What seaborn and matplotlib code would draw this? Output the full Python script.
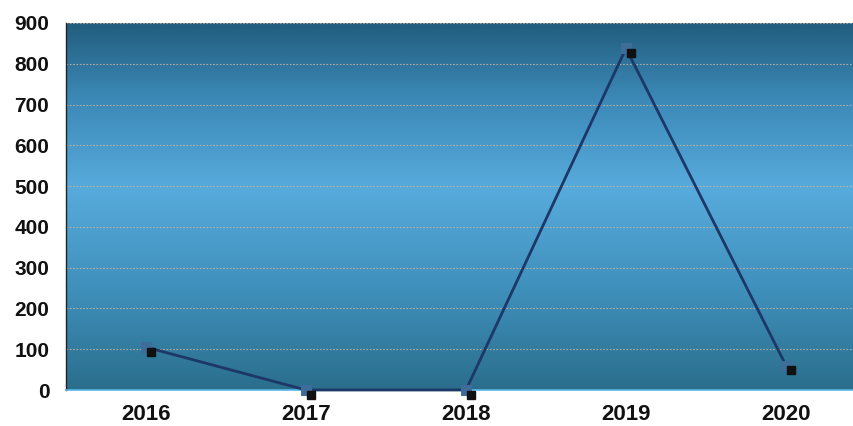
import numpy as np
import pandas as pd
import matplotlib
matplotlib.use("Agg")
import matplotlib.pyplot as plt
from matplotlib.colors import LinearSegmentedColormap
from matplotlib.transforms import ScaledTranslation
import seaborn as sns

years = ["2016", "2017", "2018", "2019", "2020"]
values = [105, 0, 0, 838, 60]
y_ticks = [0, 100, 200, 300, 400, 500, 600, 700, 800, 900]

sns.set_style("white")
plt.rcParams["font.family"] = ["Liberation Sans", "DejaVu Sans"]

fig = plt.figure(figsize=(8.54, 4.26), dpi=100)
# plot area runs past the right edge of the canvas
ax = fig.add_axes([66 / 854, 36 / 426, 800 / 854, 367 / 426])

# vertical blue gradient behind the data
grad = LinearSegmentedColormap.from_list(
    "bg",
    [(0.0, "#2b6e8c"), (0.25, "#3d8db8"), (0.55, "#57abdc"),
     (0.8, "#3b88b6"), (1.0, "#225d7e")],
)
ax.imshow(np.linspace(0, 1, 256).reshape(-1, 1), cmap=grad, aspect="auto",
          extent=[0, 1, 0, 1], transform=ax.transAxes, origin="lower", zorder=0)

df = pd.DataFrame({"year": years, "value": values})
sns.lineplot(data=df, x="year", y="value", ax=ax, color="#1d3868", lw=2.0,
             marker="s", markersize=7, markerfacecolor="#3f6d99",
             markeredgecolor="#3f6d99", zorder=4, clip_on=False)

# offset dark squares under each point
shadow = ax.transData + ScaledTranslation(3.5 / 72, -3.5 / 72, fig.dpi_scale_trans)
ax.plot(range(len(years)), values, ls="none", marker="s", markersize=6,
        color="#111111", transform=shadow, zorder=5, clip_on=False)

ax.set_xlim(-0.5, len(years) - 0.5)
ax.set_ylim(0, 900)
ax.set_yticks(y_ticks)
for t in y_ticks[1:]:
    ax.axhline(t, color="#cdb59a", lw=0.8, ls=(0, (1.5, 1.5)), alpha=0.85, zorder=1)

ax.set_xticks(range(len(years)))
ax.set_xticklabels(years)
ax.set_xticks(np.arange(0.5, len(years) - 0.5, 1), minor=True)
ax.tick_params(axis="x", which="major", length=0, pad=10, labelsize=16)
ax.tick_params(axis="x", which="minor", length=5, color="#888888", direction="out")
ax.tick_params(axis="y", length=6, color="#777777", direction="out", pad=6, labelsize=15)
for lab in ax.get_xticklabels() + ax.get_yticklabels():
    lab.set_fontweight("bold")
    lab.set_color("#111111")

ax.set_xlabel("")
ax.set_ylabel("")
ax.spines["left"].set_color("#222222")
ax.spines["left"].set_linewidth(1.0)
ax.spines["bottom"].set_color("#5ab4e8")
ax.spines["bottom"].set_linewidth(1.2)
ax.spines["top"].set_visible(False)
ax.spines["right"].set_visible(False)

fig.savefig("out.png", dpi=100)
